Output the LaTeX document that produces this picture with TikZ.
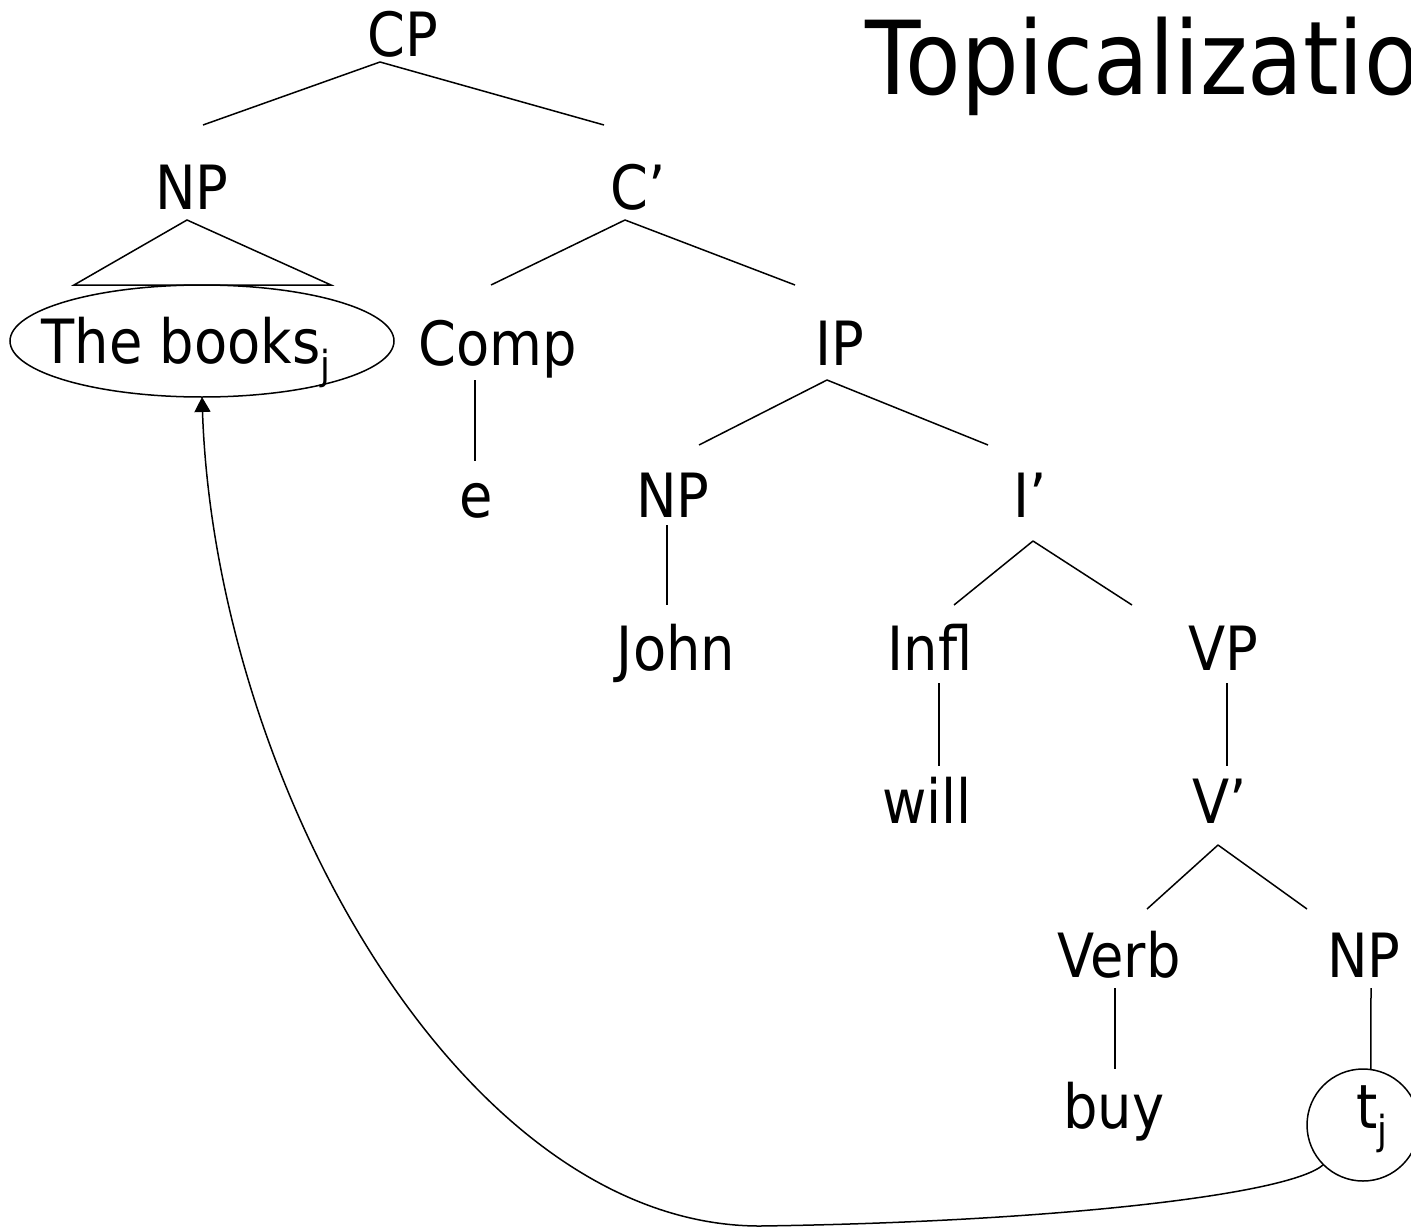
\documentclass[tikz,border=0pt]{standalone}
\usepackage{fontspec}
\setmainfont{DejaVu Sans}[FakeStretch=0.89]
\usetikzlibrary{arrows.meta, shapes.geometric}

\newcommand{\coidx}[1]{\raisebox{-8pt}{\fontsize{20}{24}\selectfont #1}}

\begin{document}
\begin{tikzpicture}[
    x=0.5pt, y=-0.5pt,
    cat/.style={font=\fontsize{30.5}{36}\selectfont, inner sep=0pt, anchor=base},
    branch/.style={line width=0.75pt},
    ring/.style={draw, line width=0.75pt, inner sep=0pt, outer sep=0pt},
    move/.style={-{Triangle[length=7.5pt, width=8pt]}, line width=0.75pt}
]
\useasboundingbox (0,0) rectangle (1411,1230);

% Title
\node[anchor=base west, inner sep=0pt, font=\fontsize{51}{60}\selectfont] (title) at (865,95) {Topicalization};

% Categories
\node[cat] (CP)   at (403,57)   {CP};
\node[cat] (NPa)  at (192,210)  {NP};
\node[cat] (Cbar) at (638,210)  {C’};
\node[cat] (books) at (186,363) {The books\coidx{j}};
\node[cat] (Comp) at (498,365)  {Comp};
\node[cat] (IP)   at (840,365)  {IP};
\node[cat] (e)    at (476,517)  {e};
\node[cat] (NPb)  at (673,517)  {NP};
\node[cat] (Ibar) at (1030,517) {I’};
\node[cat] (John) at (676,670)  {John};
\node[cat] (Infl) at (930,670)  {Infl};
\node[cat] (VP)   at (1223,670) {VP};
\node[cat] (will) at (927,823)  {will};
\node[cat] (Vbar) at (1220,823) {V’};
\node[cat] (Verb) at (1119,977) {Verb};
\node[cat] (NPc)  at (1364,977) {NP};
\node[cat] (buy)  at (1114,1128) {buy};
\node[cat] (t)    at (1372,1128) {t\coidx{j}};

% Rings round the moved phrase and its trace
\node[ring, ellipse, minimum width=192pt, minimum height=56pt] (hold) at (202,341) {};
\node[ring, circle, minimum size=56pt] (trace) at (1363,1125) {};

% Branch points
\foreach \n/\x/\y in {CP-bot/380/62, Cbar-bot/625/220, IP-bot/827/380, Ibar-bot/1033/541,
                      Vbar-bot/1218/845, Comp-bot/475/380, NPb-bot/667/525, Infl-bot/939/683,
                      VP-bot/1227/683, Verb-bot/1115/988, NPc-bot/1371/988,
                      NPa-top/203/125, Cbar-top/604/125, Comp-top/491/285, IP-top/795/285,
                      NPb-top/699/445, Ibar-top/988/445, e-top/475/461, John-top/667/605,
                      Infl-top/954/605, VP-top/1132/605, will-top/939/766, Vbar-top/1227/766,
                      Verb-top/1147/909, NPc-top/1307/909, buy-top/1115/1069,
                      tri-apex/187/220, tri-l/74/285, tri-r/331/285}
    \coordinate (\n) at (\x,\y);

% Branches
\foreach \i/\j in {CP-bot/NPa-top, CP-bot/Cbar-top, Cbar-bot/Comp-top, Cbar-bot/IP-top,
                  Comp-bot/e-top, IP-bot/NPb-top, IP-bot/Ibar-top, NPb-bot/John-top,
                  Ibar-bot/Infl-top, Ibar-bot/VP-top, Infl-bot/will-top, VP-bot/Vbar-top,
                  Vbar-bot/Verb-top, Vbar-bot/NPc-top, Verb-bot/buy-top}
    \draw[branch] (\i) -- (\j);
\draw[branch] (NPc-bot) -- (trace.82);
\draw[branch] (tri-apex) -- (tri-l) -- (tri-r) -- cycle;

% Movement
\draw[move] (trace.225) .. controls (1290,1195) and (1050,1222) .. (760,1226)
    .. controls (460,1226) and (215,780) .. (hold.south);

\end{tikzpicture}
\end{document}
